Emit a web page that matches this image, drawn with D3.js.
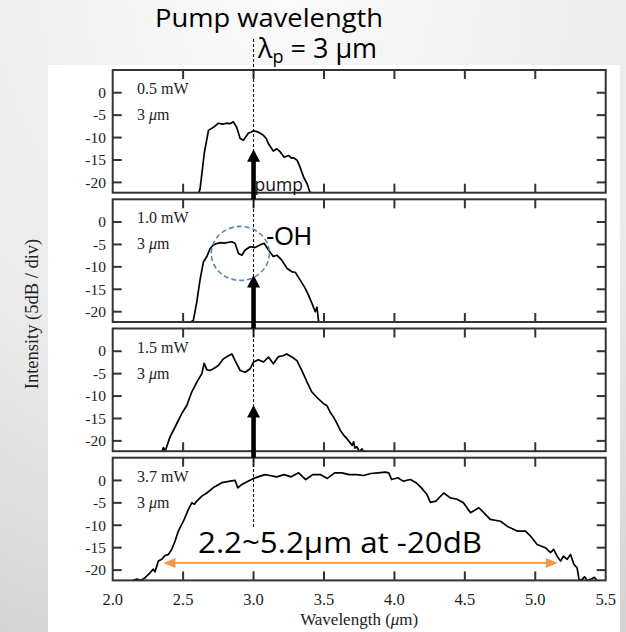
<!DOCTYPE html>
<html>
<head>
<meta charset="utf-8">
<script src="https://cdn.jsdelivr.net/npm/d3@7"></script>
<style>
  html, body { margin: 0; padding: 0; }
  body { width: 626px; height: 632px; overflow: hidden; }
</style>
</head>
<body>
<div id="chart"></div>
<script>
// panel labels (pump power, pump wavelength)
const panelPower = ["0.5 mW", "1.0 mW", "1.5 mW", "3.7 mW"];
const xTicks = [2.0, 2.5, 3.0, 3.5, 4.0, 4.5, 5.0, 5.5];
const yTicks = [0, -5, -10, -15, -20];

// spectra: [wavelength (um), intensity (dB)]
const spec05 = [[2.55,-22.4],[2.61,-22.4],[2.62,-21.5],[2.633,-18.1],[2.65,-13.5],[2.68,-8.4],[2.70,-8.0],[2.72,-7.6],[2.75,-6.8],[2.78,-7.0],[2.81,-6.8],[2.83,-6.9],[2.857,-6.5],[2.88,-7.7],[2.905,-10.2],[2.928,-10.6],[2.945,-9.8],[2.964,-9.0],[2.98,-8.8],[3.0,-8.5],[3.035,-8.8],[3.07,-9.5],[3.09,-10.2],[3.106,-11.4],[3.14,-13.0],[3.166,-12.5],[3.19,-13.2],[3.217,-14.4],[3.248,-14.0],[3.27,-14.6],[3.284,-14.5],[3.31,-15.1],[3.33,-16.6],[3.355,-18.8],[3.38,-20.3],[3.40,-22.2],[3.42,-22.4]];
const spec10 = [[2.55,-22.4],[2.573,-21.9],[2.597,-17.8],[2.62,-12.9],[2.644,-8.9],[2.668,-7.7],[2.692,-5.9],[2.715,-5.1],[2.74,-4.8],[2.763,-4.6],[2.79,-4.7],[2.81,-4.6],[2.846,-4.4],[2.869,-4.8],[2.893,-7.0],[2.917,-7.4],[2.94,-6.25],[2.976,-5.5],[3.01,-5.7],[3.046,-5.1],[3.075,-4.75],[3.106,-6.25],[3.14,-7.7],[3.166,-7.4],[3.20,-8.5],[3.237,-10.3],[3.272,-11.1],[3.296,-11.2],[3.33,-12.9],[3.367,-14.8],[3.39,-16.3],[3.414,-18.1],[3.438,-20.0],[3.45,-19.0],[3.461,-22.0],[3.47,-22.4]];
const spec15 = [[2.35,-22.4],[2.36,-21.5],[2.372,-22.2],[2.379,-21.7],[2.407,-19.1],[2.443,-16.9],[2.49,-13.9],[2.526,-12.1],[2.561,-9.1],[2.597,-6.9],[2.633,-5.0],[2.649,-2.7],[2.668,-4.1],[2.69,-4.3],[2.715,-3.9],[2.75,-3.2],[2.786,-1.7],[2.822,-1.0],[2.846,-0.6],[2.869,-2.1],[2.905,-4.3],[2.94,-4.7],[2.976,-3.9],[3.0,-2.4],[3.035,-1.9],[3.07,-2.4],[3.106,-1.3],[3.14,-2.8],[3.177,-1.2],[3.21,-1.0],[3.235,-0.6],[3.272,-1.3],[3.308,-2.1],[3.343,-4.3],[3.38,-6.9],[3.414,-9.1],[3.46,-10.6],[3.497,-11.7],[3.52,-12.1],[3.544,-13.6],[3.568,-14.7],[3.592,-16.1],[3.615,-17.6],[3.639,-18.7],[3.663,-19.5],[3.70,-21.0],[3.71,-20.2],[3.72,-21.6],[3.734,-21.3],[3.75,-22.4],[3.77,-21.8],[3.78,-22.4]];
const spec37 = [[2.14,-22.4],[2.171,-22.0],[2.20,-22.3],[2.23,-21.7],[2.265,-20.6],[2.289,-19.8],[2.30,-20.4],[2.324,-18.0],[2.348,-17.6],[2.37,-16.8],[2.395,-16.5],[2.419,-15.4],[2.443,-13.5],[2.466,-11.3],[2.502,-9.1],[2.537,-6.5],[2.561,-5.0],[2.58,-5.3],[2.597,-4.6],[2.633,-3.5],[2.668,-2.8],[2.715,-1.6],[2.775,-0.5],[2.834,-0.15],[2.869,0.0],[2.888,-1.65],[2.917,-0.9],[2.964,-0.15],[3.0,0.45],[3.047,0.96],[3.082,1.3],[3.114,1.1],[3.165,0.8],[3.216,1.3],[3.267,0.8],[3.32,1.7],[3.37,0.2],[3.42,1.3],[3.473,1.3],[3.524,0.45],[3.576,1.7],[3.627,1.7],[3.678,1.3],[3.73,1.3],[3.78,1.1],[3.832,1.55],[3.884,1.7],[3.935,1.85],[3.96,1.7],[3.98,0.2],[4.024,0.6],[4.063,-0.15],[4.114,0.2],[4.153,-0.5],[4.19,-1.6],[4.23,-3.1],[4.256,-4.9],[4.294,-4.6],[4.35,-2.8],[4.397,-3.9],[4.445,-4.2],[4.49,-5.0],[4.54,-7.2],[4.6,-6.1],[4.634,-7.2],[4.68,-8.7],[4.753,-9.1],[4.8,-10.2],[4.87,-11.3],[4.93,-11.3],[4.966,-12.4],[5.013,-14.3],[5.072,-15.0],[5.108,-16.1],[5.13,-15.4],[5.155,-16.9],[5.18,-18.0],[5.2,-16.9],[5.227,-17.6],[5.25,-16.5],[5.274,-18.7],[5.297,-19.5],[5.31,-22.0],[5.32,-22.4],[5.35,-21.5],[5.37,-22.4],[5.42,-21.6],[5.44,-22.4]];
const spectra = [spec05, spec10, spec15, spec37];

// annotations
const pumpWavelength = 3.0;
const pumpTipDb = [-12.6, -11.8, -12.0];
const spanEnds = [2.36, 5.16];
const spanDb = -18.4;
const ohCenter = [2.906, -7.0];

const W = 626, H = 632;
const margin = { left: 112.7, right: 20.3 };
const panelTop = [70, 199.3, 328.5, 457.7];
const panelH = 122.7;

const svg = d3.select('#chart').append('svg')
    .attr('width', W)
    .attr('height', H);

const defs = svg.append('defs');
const bg = defs.append('radialGradient')
    .attr('id', 'bg')
    .attr('cx', '45%').attr('cy', '0%').attr('r', '110%');
bg.append('stop').attr('offset', '0%').attr('stop-color', '#fafafa');
bg.append('stop').attr('offset', '60%').attr('stop-color', '#eaeaea');
bg.append('stop').attr('offset', '100%').attr('stop-color', '#d4d4d4');

svg.append('rect').attr('width', W).attr('height', H).attr('fill', 'url(#bg)');
svg.append('rect')
    .attr('x', 48).attr('y', 65)
    .attr('width', 572).attr('height', H - 65)
    .attr('fill', '#fff');

const x = d3.scaleLinear().domain([2, 5.5]).range([margin.left, W - margin.right]);
const yScales = panelTop.map(t => d3.scaleLinear().domain([5.07, -22.3]).range([t, t + panelH]));

const serif = '"Liberation Serif", "Times New Roman", serif';
const sans = '"Open Sans", "Noto Sans", sans-serif';

const line = y => d3.line().x(d => x(d[0])).y(d => y(d[1]));

panelTop.forEach((top, i) => {
    const y = yScales[i];
    const g = svg.append('g');

    defs.append('clipPath').attr('id', 'clip' + i)
        .append('rect')
        .attr('x', x(2)).attr('y', top)
        .attr('width', x(5.5) - x(2)).attr('height', panelH);

    g.append('path')
        .datum(spectra[i])
        .attr('clip-path', `url(#clip${i})`)
        .attr('d', line(y))
        .attr('fill', 'none')
        .attr('stroke', '#000')
        .attr('stroke-width', 1.7)
        .attr('stroke-linejoin', 'round');

    // inward ticks
    const inner = xTicks.filter(d => d > 2 && d < 5.5);
    g.selectAll('line.xt')
        .data(inner.flatMap(d => [[d, top, top + 9], [d, top + panelH, top + panelH - 9]]))
        .join('line')
        .attr('x1', d => x(d[0])).attr('x2', d => x(d[0]))
        .attr('y1', d => d[1]).attr('y2', d => d[2])
        .attr('stroke', '#333').attr('stroke-width', 2);

    g.selectAll('line.yt')
        .data(yTicks.flatMap(d => [[d, x(2), x(2) + 9], [d, x(5.5), x(5.5) - 9]]))
        .join('line')
        .attr('y1', d => y(d[0])).attr('y2', d => y(d[0]))
        .attr('x1', d => d[1]).attr('x2', d => d[2])
        .attr('stroke', '#333').attr('stroke-width', 2);

    g.selectAll('text.yl')
        .data(yTicks)
        .join('text')
        .attr('x', 106)
        .attr('y', d => y(d))
        .attr('dy', '0.34em')
        .attr('text-anchor', 'end')
        .attr('font-family', serif)
        .attr('font-size', 15.5)
        .attr('fill', '#222')
        .text(d => d);

    g.append('rect')
        .attr('x', x(2)).attr('y', top)
        .attr('width', x(5.5) - x(2)).attr('height', panelH)
        .attr('fill', 'none')
        .attr('stroke', '#333')
        .attr('stroke-width', 2);

    const lab = g.append('text')
        .attr('font-family', serif)
        .attr('font-size', 16)
        .attr('fill', '#222');
    lab.append('tspan').attr('x', 137).attr('y', top + 24).text(panelPower[i]);
    const l2 = lab.append('tspan').attr('x', 137).attr('y', top + 50);
    l2.append('tspan').text('3 ');
    l2.append('tspan').attr('font-style', 'italic').text('\u03bc');
    l2.append('tspan').text('m');
});

// x axis labels on the bottom panel
svg.append('g').selectAll('text')
    .data(xTicks)
    .join('text')
    .attr('x', d => x(d))
    .attr('y', 605)
    .attr('text-anchor', 'middle')
    .attr('font-family', serif)
    .attr('font-size', 16.5)
    .attr('fill', '#222')
    .text(d => d.toFixed(1));

const xl = svg.append('text')
    .attr('x', x(3.75)).attr('y', 625)
    .attr('text-anchor', 'middle')
    .attr('font-family', serif)
    .attr('font-size', 17)
    .attr('fill', '#222');
xl.append('tspan').text('Wavelength (');
xl.append('tspan').attr('font-style', 'italic').text('\u03bc');
xl.append('tspan').text('m)');

svg.append('text')
    .attr('transform', 'translate(38,314) rotate(-90)')
    .attr('text-anchor', 'middle')
    .attr('font-family', serif)
    .attr('font-size', 18.5)
    .attr('fill', '#222')
    .text('Intensity (5dB / div)');

// pump wavelength marker
const xp = x(pumpWavelength);
svg.append('line')
    .attr('x1', xp).attr('x2', xp)
    .attr('y1', 39).attr('y2', yScales[3](-10.6))
    .attr('stroke', '#000')
    .attr('stroke-width', 1)
    .attr('stroke-dasharray', '3,2');

pumpTipDb.forEach((db, i) => {
    const tip = yScales[i](db);
    const end = panelTop[i + 1];
    svg.append('rect')
        .attr('x', xp - 2.3).attr('y', tip + 10)
        .attr('width', 4.6).attr('height', end - tip - 10)
        .attr('fill', '#000');
    svg.append('path')
        .attr('d', `M${xp},${tip} L${xp + 6.5},${tip + 12.5} L${xp - 6.5},${tip + 12.5} Z`)
        .attr('fill', '#000');
});

svg.append('text')
    .attr('x', xp + 1).attr('y', 191)
    .attr('font-family', sans)
    .attr('font-size', 17.5)
    .attr('fill', '#111')
    .text('pump');

// -OH dip
svg.append('ellipse')
    .attr('cx', x(ohCenter[0])).attr('cy', yScales[1](ohCenter[1]))
    .attr('rx', 29).attr('ry', 27)
    .attr('fill', 'none')
    .attr('stroke', '#5b87b8')
    .attr('stroke-width', 1.6)
    .attr('stroke-dasharray', '5,3');

svg.append('text')
    .attr('x', 266).attr('y', 245)
    .attr('font-family', '"Liberation Sans", Arial, sans-serif')
    .attr('font-size', 25)
    .attr('fill', '#000')
    .text('-OH');

// bandwidth arrow
const orange = '#f79646';
const ys = yScales[3](spanDb);
const x0 = x(spanEnds[0]), x1 = x(spanEnds[1]);
svg.append('line')
    .attr('x1', x0 + 10).attr('x2', x1 - 10)
    .attr('y1', ys).attr('y2', ys)
    .attr('stroke', orange).attr('stroke-width', 1.6);
svg.append('path')
    .attr('d', `M${x0},${ys} L${x0 + 12},${ys - 5} L${x0 + 12},${ys + 5} Z`)
    .attr('fill', orange);
svg.append('path')
    .attr('d', `M${x1},${ys} L${x1 - 12},${ys - 5} L${x1 - 12},${ys + 5} Z`)
    .attr('fill', orange);

svg.append('text')
    .attr('x', 198).attr('y', 553)
    .attr('font-family', sans)
    .attr('font-size', 29)
    .attr('textLength', 284)
    .attr('lengthAdjust', 'spacingAndGlyphs')
    .attr('fill', '#000')
    .text('2.2~5.2\u03bcm at -20dB');

// titles
svg.append('text')
    .attr('x', 155).attr('y', 27)
    .attr('font-family', sans)
    .attr('font-size', 26)
    .attr('textLength', 228)
    .attr('lengthAdjust', 'spacingAndGlyphs')
    .attr('fill', '#000')
    .text('Pump wavelength');

const lp = svg.append('text')
    .attr('x', 258).attr('y', 58)
    .attr('font-family', sans)
    .attr('font-size', 27)
    .attr('fill', '#000');
lp.append('tspan').text('\u03bb');
lp.append('tspan').attr('font-size', 18).attr('dy', 5).text('p');
lp.append('tspan').attr('dy', -5).text(' = 3 \u03bcm');
</script>
</body>
</html>
